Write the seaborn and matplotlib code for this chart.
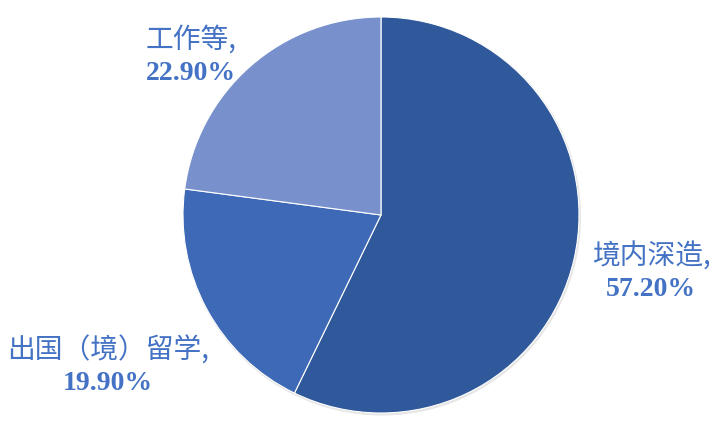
import matplotlib
matplotlib.use("Agg")
import matplotlib.pyplot as plt
import seaborn as sns

sns.set_theme(style="white")

# data
labels = ["境内深造", "出国（境）留学", "工作等"]
shares = [57.2, 19.9, 22.9]
colors = ["#30599B", "#3E69B6", "#7891CD"]
txt_color = "#4472C4"

fig = plt.figure(figsize=(7.2, 4.22), dpi=100)
ax = fig.add_axes([0, 0, 1, 1])
ax.set_xlim(0, 720)
ax.set_ylim(0, 422)
ax.set_aspect("equal")
ax.axis("off")

# soft shadow then pie
ax.pie(shares, startangle=90, counterclock=False, colors=["#e6e6e6"] * 3,
       center=(382, 205.5), radius=199, wedgeprops=dict(linewidth=0))
ax.pie(shares, startangle=90, counterclock=False, colors=colors,
       center=(381, 207), radius=198,
       wedgeprops=dict(edgecolor="white", linewidth=0.8))
ax.set_xlim(0, 720)
ax.set_ylim(0, 422)

cjk = ["Noto Sans CJK SC", "DejaVu Sans"]
num = ["Liberation Serif", "DejaVu Serif"]
fs = 20

# label positions (pixel space, y from top)
pos = {
    "境内深造": (651, 257, "center"),
    "出国（境）留学": (108, 351, "center"),
    "工作等": (146, 40, "left"),
}
for lab, val in zip(labels, shares):
    x, y, ha = pos[lab]
    ax.text(x, 422 - y, lab + ",", ha=ha, va="center", fontsize=fs,
            color=txt_color, family=cjk)
    ax.text(x, 422 - y - 33, f"{val:.2f}%", ha=ha, va="center", fontsize=fs,
            color=txt_color, family=num, fontweight="bold")

fig.savefig("out.png", dpi=100)
